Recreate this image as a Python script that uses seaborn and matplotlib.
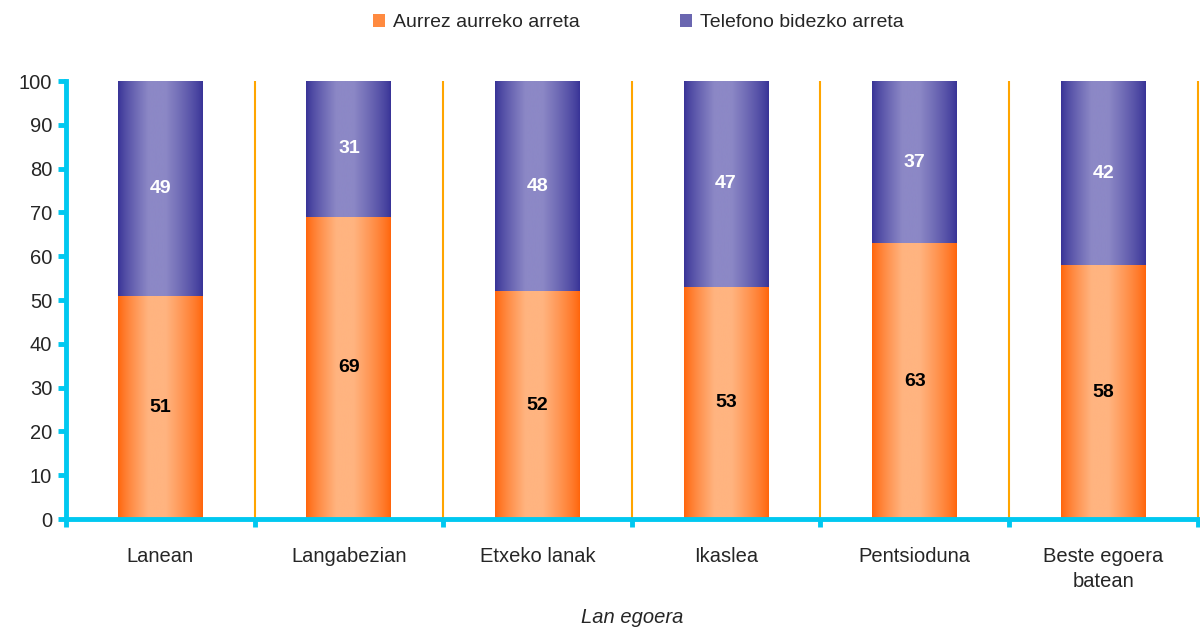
import matplotlib
matplotlib.use('Agg')
import matplotlib.pyplot as plt
import matplotlib.patches as mpatches
import numpy as np
import pandas as pd
import seaborn as sns

categories = ['Lanean', 'Langabezian', 'Etxeko lanak', 'Ikaslea', 'Pentsioduna', 'Beste egoera\nbatean']
aurrez = [51, 69, 52, 53, 63, 58]
telefono = [49, 31, 48, 47, 37, 42]
series_names = ['Aurrez aurreko arreta', 'Telefono bidezko arreta']
yticks = [0, 10, 20, 30, 40, 50, 60, 70, 80, 90, 100]

ORANGE_DARK, ORANGE_LIGHT = np.array([255, 100, 10]) / 255, np.array([255, 180, 128]) / 255
BLUE_DARK, BLUE_LIGHT = np.array([55, 50, 150]) / 255, np.array([140, 136, 198]) / 255
CYAN = '#00C8F0'
GRID_ORANGE = '#FFA500'

sns.set_style('white')
plt.rcParams['font.family'] = ['Liberation Sans', 'DejaVu Sans']

df = pd.DataFrame({
    'cat': categories,
    'aurrez': aurrez,
    'total': np.array(aurrez) + np.array(telefono),
})

fig = plt.figure(figsize=(12, 6.33), dpi=100)
ax = fig.add_axes([0.055, 0.18, 0.943, 0.692])

# blue = full stack, orange drawn on top of it
sns.barplot(data=df, x='cat', y='total', color='#6A66B0', width=0.45, ax=ax, zorder=2)
sns.barplot(data=df, x='cat', y='aurrez', color='#FF8A40', width=0.45, ax=ax, zorder=2)


def gradient(dark, light, n=200):
    t = np.linspace(0, 1, n)
    peak = 0.45
    w = np.where(t < peak, t / peak, (1 - t) / (1 - peak))
    w = np.clip(w * 1.25, 0, 1) ** 0.8
    rgb = dark[None, :] + (light - dark)[None, :] * w[:, None]
    return rgb[None, :, :]


n = len(categories)
for i, p in enumerate(ax.patches):
    dark, light = (BLUE_DARK, BLUE_LIGHT) if i < n else (ORANGE_DARK, ORANGE_LIGHT)
    x0, y0 = p.get_x(), p.get_y()
    w, h = p.get_width(), p.get_height()
    im = ax.imshow(gradient(dark, light), extent=[x0, x0 + w, y0, y0 + h],
                   aspect='auto', zorder=3, interpolation='bicubic')
    im.set_clip_path(p)

ax.set_xlim(-0.5, n - 0.5)
ax.set_ylim(0, 100)

for i in range(n):
    ax.text(i, aurrez[i] / 2, str(aurrez[i]), ha='center', va='center',
            fontsize=14, fontweight='bold', color='black', zorder=5)
    ax.text(i, aurrez[i] + telefono[i] / 2, str(telefono[i]), ha='center', va='center',
            fontsize=14, fontweight='bold', color='white', zorder=5)

ax.vlines(np.arange(n) + 0.5, 0, 100, color=GRID_ORANGE, lw=1.5, zorder=1, clip_on=False)

for side in ['top', 'right']:
    ax.spines[side].set_visible(False)
for side in ['left', 'bottom']:
    ax.spines[side].set_color(CYAN)
    ax.spines[side].set_linewidth(3.5)
    ax.spines[side].set_zorder(6)

ax.set_yticks(yticks)
ax.set_xticks(range(n))
ax.set_xticklabels(categories, linespacing=1.4)
ax.set_xticks(np.arange(n + 1) - 0.5, minor=True)
ax.tick_params(axis='y', direction='out', length=6, width=3.5, color=CYAN, labelsize=14.5, pad=4, left=True)
ax.tick_params(axis='x', which='major', length=0, labelsize=14.5, pad=20)
ax.tick_params(axis='x', which='minor', direction='out', length=6, width=3.5, color=CYAN, bottom=True)
ax.set_xlabel('Lan egoera', fontsize=14.5, fontstyle='italic', labelpad=12)
ax.set_ylabel('')

handles = [mpatches.Patch(facecolor='#FF8A40', edgecolor='none'),
           mpatches.Patch(facecolor='#6A66B0', edgecolor='none')]
fig.legend(handles, series_names, loc='upper center', bbox_to_anchor=(0.532, 1.005),
           ncol=2, frameon=False, fontsize=14, handlelength=0.6, handleheight=0.6,
           handletextpad=0.4, columnspacing=5.2)

fig.savefig('out.png', dpi=100)
